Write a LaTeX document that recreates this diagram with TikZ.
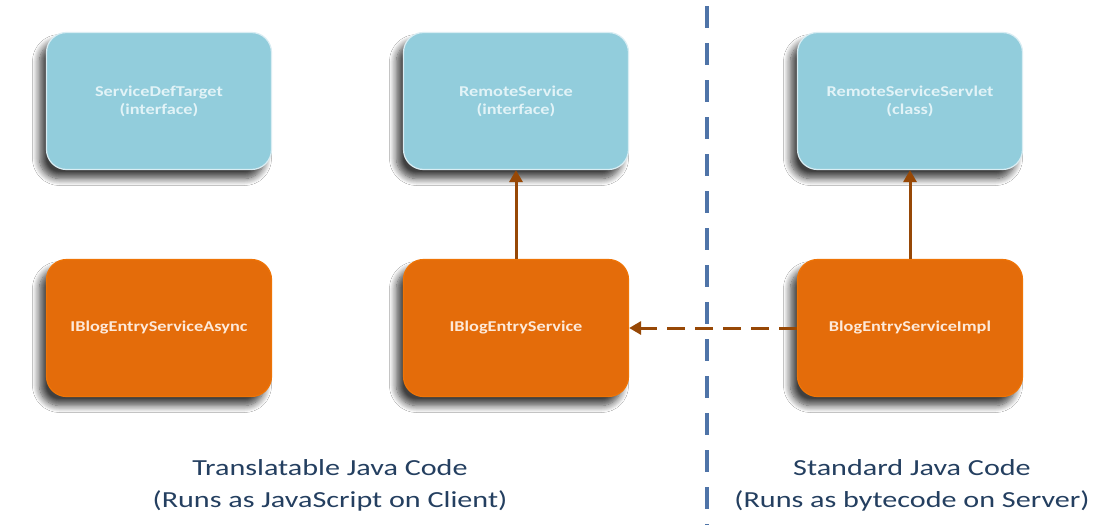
\documentclass[tikz,border=0pt]{standalone}
\usepackage{fontspec}
\setmainfont{Carlito}
\usetikzlibrary{arrows.meta,shadows.blur}
\definecolor{boxblue}{HTML}{92CDDC}
\definecolor{boxorange}{HTML}{E46C0A}
\definecolor{arrowbrown}{HTML}{974806}
\definecolor{divblue}{HTML}{4F74A8}
\definecolor{captext}{HTML}{243F60}
\definecolor{creamtext}{HTML}{FDE9D9}
\definecolor{paletext}{HTML}{E2F3F7}
\newcommand{\boxhs}[1]{\scalebox{1.22}[1]{#1}}
\newcommand{\caphs}[1]{\scalebox{1.31}[1]{#1}}
\tikzset{
  card/.style={rounded corners=20pt, minimum width=225pt, minimum height=137pt,
    inner sep=0pt, align=center, font=\bfseries\fontsize{15}{18}\selectfont,
    blur shadow={shadow xshift=-7pt, shadow yshift=-9pt, shadow blur steps=10, shadow blur radius=7pt, shadow blur extra rounding=4pt, shadow opacity=75}},
  bluecard/.style={card, fill=boxblue, draw=white!65!boxblue, line width=1.2pt, text=paletext},
  orangecard/.style={card, fill=boxorange, draw=orange!40!boxorange, line width=1.2pt, text=creamtext},
  solidarrow/.style={draw=arrowbrown, line width=3pt, -{Triangle[length=12pt,width=13pt]}},
  dasharrow/.style={draw=arrowbrown, line width=3pt, dash pattern=on 18pt off 10pt, -{Triangle[length=12pt,width=13pt]}},
  divider/.style={draw=divblue, line width=3.5pt, dash pattern=on 22pt off 15pt},
  caption/.style={text=captext, font=\fontsize{23}{32}\selectfont, align=center, inner sep=0pt}
}
\begin{document}
\begin{tikzpicture}[x=1pt,y=1pt]
\useasboundingbox (0,0) rectangle (1112,-525);
\fill[white] (0,0) rectangle (1112,-525);
\coordinate (dtop) at (707,-6);
\coordinate (dbot) at (707,-525);
\draw[divider] (dtop) -- (dbot);
\node[bluecard] (sdt) at (159,-101) {\boxhs{ServiceDefTarget}\\\boxhs{(interface)}};
\node[bluecard] (rs) at (516,-101) {\boxhs{RemoteService}\\\boxhs{(interface)}};
\node[bluecard] (rss) at (910,-101) {\boxhs{RemoteServiceServlet}\\\boxhs{(class)}};
\node[orangecard] (ibesa) at (159,-328) {\boxhs{IBlogEntryServiceAsync}};
\node[orangecard] (ibes) at (516,-328) {\boxhs{IBlogEntryService}};
\node[orangecard] (besi) at (910,-328) {\boxhs{BlogEntryServiceImpl}};
\draw[solidarrow] (ibes.north) -- (rs.south);
\draw[solidarrow] (besi.north) -- (rss.south);
\draw[dasharrow] (besi.west) -- (ibes.east);
\node[caption] (capl) at (330,-485) {\caphs{Translatable Java Code}\\\caphs{(Runs as JavaScript on Client)}};
\node[caption] (capr) at (912,-485) {\caphs{Standard Java Code}\\\caphs{(Runs as bytecode on Server)}};
\end{tikzpicture}
\end{document}
